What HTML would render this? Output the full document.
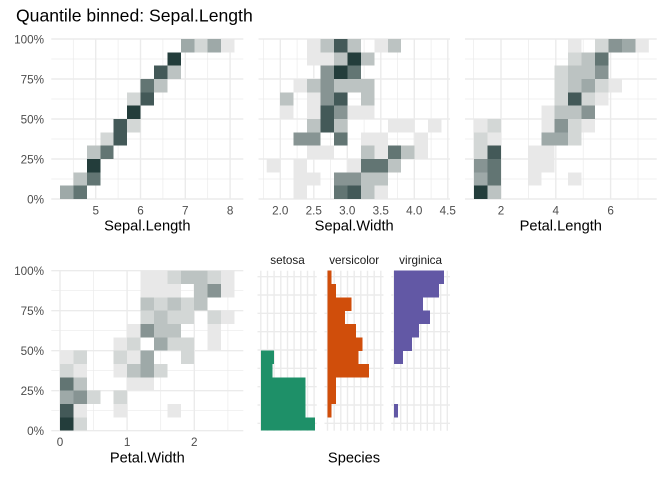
<!DOCTYPE html>
<html><head><meta charset="utf-8"><style>
html,body{margin:0;padding:0;background:#fff;}
svg{display:block;}
text{font-family:"Liberation Sans",Arial,sans-serif;}
.s1{fill:#e8e8e8}.s2{fill:#d3d7d6}.s3{fill:#bcc3c2}.s4{fill:#9ea9a8}
.s5{fill:#879493}.s6{fill:#627573}.s7{fill:#435958}.s8{fill:#233d3b}
.gM{stroke:#ebebeb;stroke-width:1.4;fill:none}
.gm{stroke:#ebebeb;stroke-width:0.7;fill:none}
.yt{font-size:11.7px;fill:#4d4d4d;text-anchor:end}
.xt{font-size:11.7px;fill:#4d4d4d;text-anchor:middle}
.at{font-size:14.67px;fill:#000;text-anchor:middle}
.st{font-size:11.7px;fill:#1a1a1a;text-anchor:middle}
</style></head><body>
<svg width="672" height="480" viewBox="0 0 672 480" xmlns="http://www.w3.org/2000/svg">
<rect width="672" height="480" fill="#fff"/>
<text x="16" y="21.5" font-size="17.6" fill="#000">Quantile binned: Sepal.Length</text>

<!-- ===== grids top row ===== -->
<g>
<!-- horizontal (panels 1,2,3) -->
<path class="gm" d="M51.3 59H243.3M51.3 99H243.3M51.3 139H243.3M51.3 179H243.3 M258.5 59H450M258.5 99H450M258.5 139H450M258.5 179H450 M465 59H656.7M465 99H656.7M465 139H656.7M465 179H656.7"/>
<path class="gM" d="M51.3 39H243.3M51.3 79H243.3M51.3 119H243.3M51.3 159H243.3M51.3 199H243.3 M258.5 39H450M258.5 79H450M258.5 119H450M258.5 159H450M258.5 199H450 M465 39H656.7M465 79H656.7M465 119H656.7M465 159H656.7M465 199H656.7"/>
<!-- vertical panel 1 -->
<path class="gm" d="M73.3 39V199M118.1 39V199M162.9 39V199M207.7 39V199"/>
<path class="gM" d="M95.7 39V199M140.5 39V199M185.3 39V199M230.1 39V199"/>
<!-- vertical panel 2 -->
<path class="gm" d="M263.6 39V199M297.1 39V199M330.6 39V199M364.1 39V199M397.6 39V199M431.1 39V199"/>
<path class="gM" d="M280.3 39V199M313.8 39V199M347.3 39V199M380.8 39V199M414.3 39V199M447.8 39V199"/>
<!-- vertical panel 3 -->
<path class="gm" d="M473.6 39V199M528.4 39V199M583.2 39V199M638 39V199"/>
<path class="gM" d="M501 39V199M555.8 39V199M610.6 39V199"/>
</g>

<!-- ===== grid panel 4 ===== -->
<path class="gm" d="M51.3 290.7H243.3M51.3 330.7H243.3M51.3 370.7H243.3M51.3 410.7H243.3 M93.5 270.7V430.7M160.7 270.7V430.7M227.9 270.7V430.7"/>
<path class="gM" d="M51.3 270.7H243.3M51.3 310.7H243.3M51.3 350.7H243.3M51.3 390.7H243.3M51.3 430.7H243.3 M60 270.7V430.7M127.1 270.7V430.7M194.3 270.7V430.7"/>

<!-- ===== species panels grid ===== -->
<g>
<path class="gM" stroke-width="1.1" d="
M257.5 276.7H316.7M257.5 295H316.7M257.5 313.3H316.7M257.5 331.7H316.7M257.5 350H316.7M257.5 368.3H316.7M257.5 386.7H316.7M257.5 405H316.7M257.5 423.3H316.7
M324.5 276.7H383.5M324.5 295H383.5M324.5 313.3H383.5M324.5 331.7H383.5M324.5 350H383.5M324.5 368.3H383.5M324.5 386.7H383.5M324.5 405H383.5M324.5 423.3H383.5
M391.2 276.7H450M391.2 295H450M391.2 313.3H450M391.2 331.7H450M391.2 350H450M391.2 368.3H450M391.2 386.7H450M391.2 405H450M391.2 423.3H450"/>
<path class="gM" stroke-width="1.1" d="
M260.8 270.7V430.7M267.5 270.7V430.7M274.1 270.7V430.7M280.8 270.7V430.7M287.5 270.7V430.7M294.1 270.7V430.7M300.8 270.7V430.7M307.5 270.7V430.7M314.1 270.7V430.7
M327.5 270.7V430.7M334.2 270.7V430.7M340.8 270.7V430.7M347.5 270.7V430.7M354.2 270.7V430.7M360.8 270.7V430.7M367.5 270.7V430.7M374.2 270.7V430.7M380.8 270.7V430.7
M394 270.7V430.7M400.7 270.7V430.7M407.3 270.7V430.7M414 270.7V430.7M420.7 270.7V430.7M427.3 270.7V430.7M434 270.7V430.7M440.7 270.7V430.7M447.3 270.7V430.7"/>
</g>

<!-- ===== Panel 1 tiles ===== -->
<svg x="60" y="39" width="174.6" height="160" viewBox="0 0 13 12" preserveAspectRatio="none" shape-rendering="crispEdges">
<rect class="s4" x="0" y="11" width="1" height="1"/><rect class="s6" x="1" y="11" width="1" height="1"/>
<rect class="s3" x="1" y="10" width="1" height="1"/><rect class="s6" x="2" y="10" width="1" height="1"/>
<rect class="s8" x="2" y="9" width="1" height="1"/>
<rect class="s3" x="2" y="8" width="1" height="1"/><rect class="s6" x="3" y="8" width="1" height="1"/>
<rect class="s2" x="3" y="7" width="1" height="1"/><rect class="s7" x="4" y="7" width="1" height="1"/>
<rect class="s7" x="4" y="6" width="1" height="1"/><rect class="s2" x="5" y="6" width="1" height="1"/>
<rect class="s8" x="5" y="5" width="1" height="1"/>
<rect class="s2" x="5" y="4" width="1" height="1"/><rect class="s7" x="6" y="4" width="1" height="1"/>
<rect class="s6" x="6" y="3" width="1" height="1"/><rect class="s3" x="7" y="3" width="1" height="1"/>
<rect class="s7" x="7" y="2" width="1" height="1"/><rect class="s3" x="8" y="2" width="1" height="1"/>
<rect class="s8" x="8" y="1" width="1" height="1"/>
<rect class="s4" x="9" y="0" width="1" height="1"/><rect class="s2" x="10" y="0" width="1" height="1"/><rect class="s4" x="11" y="0" width="1" height="1"/><rect class="s1" x="12" y="0" width="1" height="1"/>
</svg>

<!-- ===== Panel 2 tiles ===== -->
<svg x="266.7" y="39" width="174.85" height="160" viewBox="0 0 13 12" preserveAspectRatio="none" shape-rendering="crispEdges">
<!-- r11 y0 -->
<rect class="s1" x="3" y="0" width="1" height="1"/><rect class="s3" x="4" y="0" width="1" height="1"/><rect class="s7" x="5" y="0" width="1" height="1"/><rect class="s3" x="6" y="0" width="1" height="1"/><rect class="s1" x="8" y="0" width="1" height="1"/><rect class="s3" x="9" y="0" width="1" height="1"/>
<!-- r10 y1 -->
<rect class="s1" x="3" y="1" width="1" height="1"/><rect class="s1" x="4" y="1" width="1" height="1"/><rect class="s3" x="5" y="1" width="1" height="1"/><rect class="s8" x="6" y="1" width="1" height="1"/><rect class="s3" x="7" y="1" width="1" height="1"/>
<!-- r9 y2 -->
<rect class="s5" x="4" y="2" width="1" height="1"/><rect class="s8" x="5" y="2" width="1" height="1"/><rect class="s6" x="6" y="2" width="1" height="1"/>
<!-- r8 y3 -->
<rect class="s1" x="2" y="3" width="1" height="1"/><rect class="s3" x="3" y="3" width="1" height="1"/><rect class="s5" x="4" y="3" width="1" height="1"/><rect class="s3" x="5" y="3" width="1" height="1"/><rect class="s3" x="6" y="3" width="1" height="1"/><rect class="s3" x="7" y="3" width="1" height="1"/>
<!-- r7 y4 -->
<rect class="s3" x="1" y="4" width="1" height="1"/><rect class="s1" x="3" y="4" width="1" height="1"/><rect class="s5" x="4" y="4" width="1" height="1"/><rect class="s7" x="5" y="4" width="1" height="1"/><rect class="s3" x="7" y="4" width="1" height="1"/>
<!-- r6 y5 -->
<rect class="s1" x="1" y="5" width="1" height="1"/><rect class="s1" x="3" y="5" width="1" height="1"/><rect class="s7" x="4" y="5" width="1" height="1"/><rect class="s5" x="5" y="5" width="1" height="1"/><rect class="s1" x="6" y="5" width="1" height="1"/><rect class="s1" x="7" y="5" width="1" height="1"/>
<!-- r5 y6 -->
<rect class="s3" x="3" y="6" width="1" height="1"/><rect class="s7" x="4" y="6" width="1" height="1"/><rect class="s3" x="5" y="6" width="1" height="1"/><rect class="s1" x="9" y="6" width="1" height="1"/><rect class="s1" x="10" y="6" width="1" height="1"/><rect class="s1" x="12" y="6" width="1" height="1"/>
<!-- r4 y7 -->
<rect class="s5" x="2" y="7" width="1" height="1"/><rect class="s5" x="3" y="7" width="1" height="1"/><rect class="s6" x="5" y="7" width="1" height="1"/><rect class="s1" x="7" y="7" width="1" height="1"/><rect class="s1" x="8" y="7" width="1" height="1"/><rect class="s1" x="11" y="7" width="1" height="1"/>
<!-- r3 y8 -->
<rect class="s1" x="3" y="8" width="1" height="1"/><rect class="s1" x="4" y="8" width="1" height="1"/><rect class="s3" x="7" y="8" width="1" height="1"/><rect class="s1" x="8" y="8" width="1" height="1"/><rect class="s6" x="9" y="8" width="1" height="1"/><rect class="s3" x="10" y="8" width="1" height="1"/><rect class="s1" x="11" y="8" width="1" height="1"/>
<!-- r2 y9 -->
<rect class="s1" x="0" y="9" width="1" height="1"/><rect class="s1" x="2" y="9" width="1" height="1"/><rect class="s1" x="6" y="9" width="1" height="1"/><rect class="s6" x="7" y="9" width="1" height="1"/><rect class="s6" x="8" y="9" width="1" height="1"/><rect class="s3" x="9" y="9" width="1" height="1"/>
<!-- r1 y10 -->
<rect class="s1" x="2" y="10" width="1" height="1"/><rect class="s1" x="3" y="10" width="1" height="1"/><rect class="s5" x="5" y="10" width="1" height="1"/><rect class="s5" x="6" y="10" width="1" height="1"/><rect class="s3" x="7" y="10" width="1" height="1"/><rect class="s3" x="8" y="10" width="1" height="1"/>
<!-- r0 y11 -->
<rect class="s1" x="2" y="11" width="1" height="1"/><rect class="s6" x="5" y="11" width="1" height="1"/><rect class="s7" x="6" y="11" width="1" height="1"/><rect class="s3" x="7" y="11" width="1" height="1"/><rect class="s1" x="8" y="11" width="1" height="1"/>
</svg>

<!-- ===== Panel 3 tiles ===== -->
<svg x="474" y="39" width="174.85" height="160" viewBox="0 0 13 12" preserveAspectRatio="none" shape-rendering="crispEdges">
<rect class="s1" x="7" y="0" width="1" height="1"/><rect class="s2" x="9" y="0" width="1" height="1"/><rect class="s5" x="10" y="0" width="1" height="1"/><rect class="s4" x="11" y="0" width="1" height="1"/><rect class="s1" x="12" y="0" width="1" height="1"/>
<rect class="s2" x="7" y="1" width="1" height="1"/><rect class="s3" x="8" y="1" width="1" height="1"/><rect class="s6" x="9" y="1" width="1" height="1"/>
<rect class="s2" x="6" y="2" width="1" height="1"/><rect class="s3" x="7" y="2" width="1" height="1"/><rect class="s3" x="8" y="2" width="1" height="1"/><rect class="s5" x="9" y="2" width="1" height="1"/>
<rect class="s2" x="6" y="3" width="1" height="1"/><rect class="s3" x="7" y="3" width="1" height="1"/><rect class="s4" x="8" y="3" width="1" height="1"/><rect class="s2" x="9" y="3" width="1" height="1"/><rect class="s1" x="10" y="3" width="1" height="1"/>
<rect class="s2" x="6" y="4" width="1" height="1"/><rect class="s7" x="7" y="4" width="1" height="1"/><rect class="s2" x="8" y="4" width="1" height="1"/><rect class="s1" x="9" y="4" width="1" height="1"/>
<rect class="s1" x="5" y="5" width="1" height="1"/><rect class="s3" x="6" y="5" width="1" height="1"/><rect class="s3" x="7" y="5" width="1" height="1"/><rect class="s5" x="8" y="5" width="1" height="1"/>
<rect class="s1" x="0" y="6" width="1" height="1"/><rect class="s2" x="1" y="6" width="1" height="1"/><rect class="s1" x="5" y="6" width="1" height="1"/><rect class="s5" x="6" y="6" width="1" height="1"/><rect class="s2" x="7" y="6" width="1" height="1"/><rect class="s1" x="8" y="6" width="1" height="1"/>
<rect class="s2" x="0" y="7" width="1" height="1"/><rect class="s1" x="1" y="7" width="1" height="1"/><rect class="s4" x="5" y="7" width="1" height="1"/><rect class="s4" x="6" y="7" width="1" height="1"/><rect class="s2" x="7" y="7" width="1" height="1"/>
<rect class="s2" x="0" y="8" width="1" height="1"/><rect class="s7" x="1" y="8" width="1" height="1"/><rect class="s1" x="4" y="8" width="1" height="1"/><rect class="s1" x="5" y="8" width="1" height="1"/>
<rect class="s5" x="0" y="9" width="1" height="1"/><rect class="s6" x="1" y="9" width="1" height="1"/><rect class="s1" x="4" y="9" width="1" height="1"/><rect class="s1" x="5" y="9" width="1" height="1"/>
<rect class="s4" x="0" y="10" width="1" height="1"/><rect class="s6" x="1" y="10" width="1" height="1"/><rect class="s1" x="4" y="10" width="1" height="1"/><rect class="s1" x="7" y="10" width="1" height="1"/>
<rect class="s8" x="0" y="11" width="1" height="1"/><rect class="s3" x="1" y="11" width="1" height="1"/>
</svg>

<!-- ===== Panel 4 tiles ===== -->
<svg x="60" y="270.7" width="174.5" height="160" viewBox="0 0 13 12" preserveAspectRatio="none" shape-rendering="crispEdges">
<rect class="s1" x="6" y="0" width="1" height="1"/><rect class="s1" x="7" y="0" width="1" height="1"/><rect class="s2" x="8" y="0" width="1" height="1"/><rect class="s3" x="9" y="0" width="1" height="1"/><rect class="s3" x="10" y="0" width="1" height="1"/><rect class="s2" x="11" y="0" width="1" height="1"/><rect class="s1" x="12" y="0" width="1" height="1"/>
<rect class="s1" x="6" y="1" width="1" height="1"/><rect class="s1" x="7" y="1" width="1" height="1"/><rect class="s1" x="8" y="1" width="1" height="1"/><rect class="s3" x="10" y="1" width="1" height="1"/><rect class="s5" x="11" y="1" width="1" height="1"/><rect class="s1" x="12" y="1" width="1" height="1"/>
<rect class="s3" x="6" y="2" width="1" height="1"/><rect class="s2" x="7" y="2" width="1" height="1"/><rect class="s3" x="8" y="2" width="1" height="1"/><rect class="s2" x="9" y="2" width="1" height="1"/><rect class="s3" x="10" y="2" width="1" height="1"/>
<rect class="s2" x="6" y="3" width="1" height="1"/><rect class="s3" x="7" y="3" width="1" height="1"/><rect class="s2" x="8" y="3" width="1" height="1"/><rect class="s2" x="9" y="3" width="1" height="1"/><rect class="s2" x="11" y="3" width="1" height="1"/><rect class="s1" x="12" y="3" width="1" height="1"/>
<rect class="s1" x="5" y="4" width="1" height="1"/><rect class="s5" x="6" y="4" width="1" height="1"/><rect class="s3" x="7" y="4" width="1" height="1"/><rect class="s3" x="8" y="4" width="1" height="1"/><rect class="s1" x="11" y="4" width="1" height="1"/>
<rect class="s1" x="4" y="5" width="1" height="1"/><rect class="s2" x="5" y="5" width="1" height="1"/><rect class="s4" x="7" y="5" width="1" height="1"/><rect class="s2" x="8" y="5" width="1" height="1"/><rect class="s2" x="9" y="5" width="1" height="1"/><rect class="s1" x="11" y="5" width="1" height="1"/>
<rect class="s1" x="0" y="6" width="1" height="1"/><rect class="s2" x="1" y="6" width="1" height="1"/><rect class="s2" x="4" y="6" width="1" height="1"/><rect class="s1" x="5" y="6" width="1" height="1"/><rect class="s4" x="6" y="6" width="1" height="1"/><rect class="s2" x="9" y="6" width="1" height="1"/>
<rect class="s2" x="0" y="7" width="1" height="1"/><rect class="s1" x="1" y="7" width="1" height="1"/><rect class="s1" x="4" y="7" width="1" height="1"/><rect class="s3" x="5" y="7" width="1" height="1"/><rect class="s4" x="6" y="7" width="1" height="1"/><rect class="s2" x="7" y="7" width="1" height="1"/>
<rect class="s6" x="0" y="8" width="1" height="1"/><rect class="s3" x="1" y="8" width="1" height="1"/><rect class="s1" x="5" y="8" width="1" height="1"/><rect class="s1" x="6" y="8" width="1" height="1"/>
<rect class="s4" x="0" y="9" width="1" height="1"/><rect class="s5" x="1" y="9" width="1" height="1"/><rect class="s2" x="2" y="9" width="1" height="1"/><rect class="s2" x="4" y="9" width="1" height="1"/>
<rect class="s7" x="0" y="10" width="1" height="1"/><rect class="s1" x="1" y="10" width="1" height="1"/><rect class="s1" x="4" y="10" width="1" height="1"/><rect class="s1" x="8" y="10" width="1" height="1"/>
<rect class="s8" x="0" y="11" width="1" height="1"/><rect class="s2" x="1" y="11" width="1" height="1"/>
</svg>

<!-- ===== Species bars ===== -->
<g shape-rendering="crispEdges">
<g fill="#1e9068">
<rect x="260.8" y="417.37" width="54.2" height="13.33"/>
<rect x="260.8" y="377.37" width="44.9" height="40.1"/>
<rect x="260.8" y="364.03" width="11.9" height="13.4"/>
<rect x="260.8" y="350.7" width="13.2" height="13.4"/>
</g>
<g fill="#d04e0b">
<rect x="327.5" y="270.7" width="4.2" height="13.4"/>
<rect x="327.5" y="284.03" width="8.5" height="13.4"/>
<rect x="327.5" y="297.37" width="24.2" height="13.4"/>
<rect x="327.5" y="310.7" width="17.5" height="13.4"/>
<rect x="327.5" y="324.03" width="28.5" height="13.4"/>
<rect x="327.5" y="337.37" width="35.2" height="13.4"/>
<rect x="327.5" y="350.7" width="31.2" height="13.4"/>
<rect x="327.5" y="364.03" width="41.5" height="13.4"/>
<rect x="327.5" y="377.37" width="8.5" height="26.7"/>
<rect x="327.5" y="404.03" width="4.2" height="13.33"/>
</g>
<g fill="#6258a5">
<rect x="394" y="270.7" width="50" height="13.4"/>
<rect x="394" y="284.03" width="45" height="13.4"/>
<rect x="394" y="297.37" width="29" height="13.4"/>
<rect x="394" y="310.7" width="36" height="13.4"/>
<rect x="394" y="324.03" width="25" height="13.4"/>
<rect x="394" y="337.37" width="18" height="13.4"/>
<rect x="394" y="350.7" width="9" height="13.33"/>
<rect x="394" y="404.03" width="4" height="13.33"/>
</g>
</g>

<!-- ===== Text ===== -->
<text class="yt" x="44" y="43.3">100%</text>
<text class="yt" x="44" y="83.3">75%</text>
<text class="yt" x="44" y="123.3">50%</text>
<text class="yt" x="44" y="163.3">25%</text>
<text class="yt" x="44" y="203.3">0%</text>

<text class="yt" x="44" y="275">100%</text>
<text class="yt" x="44" y="315">75%</text>
<text class="yt" x="44" y="355">50%</text>
<text class="yt" x="44" y="395">25%</text>
<text class="yt" x="44" y="435">0%</text>

<text class="xt" x="95.7" y="214.5">5</text>
<text class="xt" x="140.5" y="214.5">6</text>
<text class="xt" x="185.3" y="214.5">7</text>
<text class="xt" x="230.1" y="214.5">8</text>

<text class="xt" x="280.3" y="214.5">2.0</text>
<text class="xt" x="313.8" y="214.5">2.5</text>
<text class="xt" x="347.3" y="214.5">3.0</text>
<text class="xt" x="380.8" y="214.5">3.5</text>
<text class="xt" x="414.3" y="214.5">4.0</text>
<text class="xt" x="447.8" y="214.5">4.5</text>

<text class="xt" x="501" y="214.5">2</text>
<text class="xt" x="555.8" y="214.5">4</text>
<text class="xt" x="610.6" y="214.5">6</text>

<text class="xt" x="60" y="446">0</text>
<text class="xt" x="127.1" y="446">1</text>
<text class="xt" x="194.3" y="446">2</text>

<text class="at" x="147.3" y="230.7">Sepal.Length</text>
<text class="at" x="354.2" y="230.7">Sepal.Width</text>
<text class="at" x="560.8" y="230.7">Petal.Length</text>
<text class="at" x="147.3" y="462.7">Petal.Width</text>
<text class="at" x="354" y="462.7">Species</text>

<text class="st" x="287.5" y="264">setosa</text>
<text class="st" x="354.2" y="264">versicolor</text>
<text class="st" x="420.6" y="264">virginica</text>
</svg>
</body></html>
